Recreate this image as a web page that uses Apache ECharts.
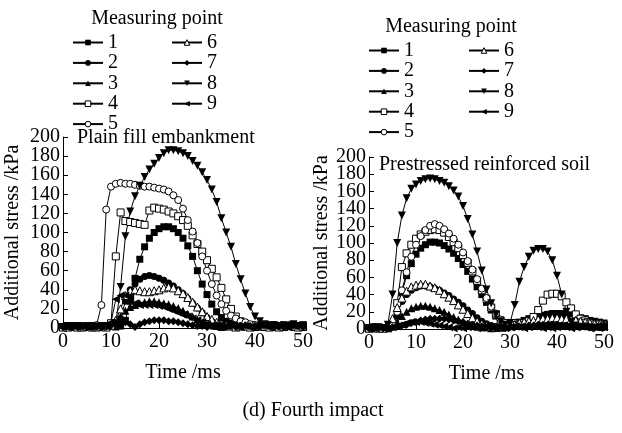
<!DOCTYPE html>
<html>
<head>
<meta charset="utf-8">
<title>Additional stress - fourth impact</title>
<script src="https://cdn.jsdelivr.net/npm/echarts@6/dist/echarts.min.js"></script>
<style>
  html, body { margin: 0; padding: 0; background: #fff; }
  #chart { width: 622px; height: 433px; }
</style>
</head>
<body>
<div id="chart"></div>
<script>
const times = [0, 1, 2, 3, 4, 5, 6, 7, 8, 9, 10, 11, 12, 13, 14, 15, 16, 17, 18, 19, 20,
  21, 22, 23, 24, 25, 26, 27, 28, 29, 30, 31, 32, 33, 34, 35, 36, 37, 38, 39, 40,
  41, 42, 43, 44, 45, 46, 47, 48, 49, 50]
const pointNames = ['1', '2', '3', '4', '5', '6', '7', '8', '9']
const xTicks = [0, 10, 20, 30, 40, 50]
const yTicks = [0, 20, 40, 60, 80, 100, 120, 140, 160, 180, 200]

// plain fill embankment, measuring points 1..9
const plain1 = [1, 2, 1, 1, 2, 1, 1, 2, 1, 1, 2, 1, 2,
  8, 28, 52, 72, 85, 94, 100, 104, 106, 106, 104, 100, 94, 86, 75, 60, 46, 35, 25, 17, 11, 7, 5, 4, 3, 2,
  2, 3, 1, 2, 3, 2, 1, 3, 2, 1, 2, 3]
const plain2 = [1, 1, 2, 1, 1, 2, 1, 1, 2, 1, 2, 3,
  10, 28, 40, 46, 51, 54, 55, 54, 52, 50, 47, 44, 40, 36, 31, 26, 21, 16, 11, 7, 5, 3,
  2, 2, 1, 2, 3, 2, 1, 2, 3, 2, 1, 2, 3, 2, 1, 2, 3]
const plain3 = [1, 2, 1, 1, 2, 1, 2, 1, 1, 2, 3,
  6, 12, 18, 22, 24, 26, 27, 28, 28, 27, 26, 25, 23, 21, 18, 15, 12, 9, 6, 4, 3,
  2, 1, 2, 2, 1, 2, 3, 2, 1, 2, 1, 2, 3, 2, 1, 2, 3, 2, 1]
const plain4 = [1, 1, 2, 1, 1, 2, 1, 2, 1, 2,
  5, 75, 121, 112, 111, 110, 109, 108, 123, 126, 125, 124, 122, 120, 117, 113, 107, 97, 88, 80,
  71, 62, 53, 42, 30, 20, 12, 7, 4, 3,
  2, 2, 1, 2, 3, 2, 1, 2, 3, 2, 1]
const plain5 = [1, 2, 1, 1, 2, 1, 1,
  3, 24, 124, 148, 151, 152, 151, 151, 150, 149, 148, 148, 147, 146, 145, 143, 139, 134, 125, 113,
  101, 89, 75, 60, 46, 34, 25, 18, 13, 10, 7, 6, 4, 3,
  2, 1, 2, 3, 2, 1, 2, 3, 2, 1]
const plain6 = [1, 1, 2, 1, 1, 2, 1, 1, 2, 1, 3,
  8, 20, 34, 39, 40, 39, 38, 38, 39, 40, 42, 43, 42, 39, 36, 32, 27, 22, 17, 12, 9, 6, 4, 3,
  2, 1, 2, 2, 1, 2, 3, 2, 1, 2, 1, 2, 3, 2, 1, 2]
const plain7 = [1, 2, 1, 1, 2, 1, 1, 2, 1, 2, 3,
  5, 6, 6, 4, 1, 4, 6, 7, 8, 8, 8, 7, 7, 6, 5, 4, 3, 2,
  2, 1, 2, 3, 2, 1, 2, 1, 2, 3, 2, 1, 2, 3, 2, 1, 2, 1, 2, 3, 2, 1]
const plain8 = [1, 2, 1, 2, 1, 1, 2, 1, 2, 1, 2,
  5, 43, 96, 122, 138, 149, 158, 166, 172, 178, 183, 186, 186, 185, 183, 180, 175, 170, 163, 155,
  145, 132, 115, 100, 85, 67, 51, 36, 22, 12, 7, 4,
  3, 2, 1, 3, 2, 4, 2, 3]
const plain9 = [1, 1, 2, 1, 2, 1, 1, 2, 1, 2,
  6, 30, 34, 34, 33, 26, 24, 24, 24, 24, 23, 22, 20, 18, 16, 14, 12, 10, 8, 6, 4, 3,
  2, 1, 2, 3, 2, 1, 2, 1, 2, 3, 2, 1, 2, 3, 2, 1, 2, 3, 2]

// prestressed reinforced soil, measuring points 1..9
const pre1 = [1, 1, 2, 1, 2,
  3, 15, 42, 62, 76, 87, 94, 98, 101, 101, 100, 97, 93, 88, 82, 75, 67, 58, 49, 40, 31, 22, 15, 9, 6, 5,
  6, 8, 10, 12, 14, 15, 16, 17, 18, 18, 18, 17, 16, 15, 13, 12, 10, 9, 8, 7]
const pre2 = [1, 2, 1, 1, 2,
  6, 20, 32, 40, 45, 48, 50, 50, 49, 47, 45, 42, 39, 35, 31, 27, 22, 18, 13, 9, 6, 4, 3,
  2, 2, 3, 4, 5, 6, 7, 8, 9, 10, 11, 12, 12, 12, 11, 10, 9, 8, 7, 6, 5, 4, 4]
const pre3 = [1, 1, 2, 1, 1,
  3, 8, 15, 20, 24, 26, 27, 27, 26, 24, 22, 20, 17, 14, 11, 8, 6, 4, 3,
  2, 2, 1, 2, 3, 3, 4, 5, 6, 7, 8, 9, 10, 10, 11, 11, 10, 10, 9, 8, 7, 6, 5, 5, 4, 3, 3]
const pre4 = [1, 1, 2, 1, 1,
  5, 30, 72, 88, 98, 105, 110, 113, 115, 116, 115, 112, 107, 101, 94, 86, 77, 67, 56, 45, 35, 25, 17, 10, 7,
  7, 7, 6, 7, 9, 14, 22, 33, 40, 41, 41, 38, 31, 24, 17, 12, 10, 8, 7, 6, 5]
const pre5 = [1, 2, 1, 1, 2,
  4, 20, 45, 66, 84, 98, 108, 115, 120, 122, 120, 116, 111, 105, 98, 89, 79, 69, 58, 47, 36, 26, 18, 11, 7, 5,
  5, 5, 6, 6, 7, 8, 8, 9, 9, 10, 10, 10, 9, 9, 8, 8, 7, 6, 6, 5]
const pre6 = [1, 2, 1, 1,
  3, 12, 25, 36, 44, 49, 51, 52, 52, 50, 48, 45, 41, 37, 33, 28, 23, 18, 13, 9, 6, 4, 3,
  2, 2, 3, 4, 5, 7, 8, 9, 10, 11, 12, 12, 13, 13, 12, 12, 11, 10, 9, 8, 7, 6, 5, 4]
const pre7 = [1, 1, 2, 1, 1, 2,
  3, 4, 5, 7, 8, 10, 11, 12, 12, 12, 12, 11, 10, 9, 8, 6, 5, 4, 3,
  2, 2, 1, 2, 1, 2, 2, 3, 3, 4, 4, 5, 5, 5, 5, 5, 4, 4, 4, 3, 3, 3, 2, 2, 2, 2]
const pre8 = [1, 2, 1, 1,
  5, 40, 100, 132, 152, 163, 168, 172, 174, 175, 174, 172, 170, 166, 161, 154, 143, 128, 110, 90, 68,
  46, 30, 17, 9, 5, 7, 28, 55, 72, 84, 91, 93, 93, 90, 80, 62, 40, 20, 8, 4,
  2, 3, 2, 1, 2, 3]
const pre9 = [1, 1, 2, 1, 1, 2,
  3, 5, 7, 8, 8, 8, 7, 6, 5, 4, 3,
  2, 1, 2, 1, 2, 2, 1, 2, 3, 2, 1, 2, 1, 2, 3, 2, 1, 2, 3, 2, 1, 2, 1, 2, 3, 2, 1, 2, 3, 2, 1, 2, 1, 2]

const plainSeries = [plain1, plain2, plain3, plain4, plain5, plain6, plain7, plain8, plain9]
const preSeries = [pre1, pre2, pre3, pre4, pre5, pre6, pre7, pre8, pre9]

const FONT = '"Liberation Serif", "Times New Roman", serif'
const BLACK = '#000'

// marker per measuring point
const markers = [
  { symbol: 'rect', size: 7, rotate: 0, open: false },
  { symbol: 'circle', size: 7, rotate: 0, open: false },
  { symbol: 'triangle', size: 8, rotate: 0, open: false },
  { symbol: 'rect', size: 7, rotate: 0, open: true },
  { symbol: 'circle', size: 7, rotate: 0, open: true },
  { symbol: 'triangle', size: 8, rotate: 0, open: true },
  { symbol: 'diamond', size: 8, rotate: 0, open: false },
  { symbol: 'triangle', size: 8, rotate: 180, open: false },
  { symbol: 'triangle', size: 8, rotate: 90, open: false }
]

function buildSeries(list, axisIndex) {
  return list.map((vals, i) => {
    const m = markers[i]
    return {
      name: pointNames[i],
      type: 'line',
      xAxisIndex: axisIndex,
      yAxisIndex: axisIndex * 2,
      data: times.map((t, k) => [t, vals[k]]),
      symbol: m.symbol,
      symbolSize: m.size,
      symbolRotate: m.rotate,
      lineStyle: { width: 1, color: BLACK },
      itemStyle: m.open
        ? { color: '#fff', borderColor: BLACK, borderWidth: 1 }
        : { color: BLACK },
      emphasis: { disabled: true },
      animation: false
    }
  })
}

function xAxisFor(gridIndex) {
  return {
    type: 'value',
    gridIndex: gridIndex,
    min: xTicks[0],
    max: xTicks[xTicks.length - 1],
    interval: xTicks[1] - xTicks[0],
    name: 'Time /ms',
    nameLocation: 'middle',
    nameGap: 35,
    nameTextStyle: { fontFamily: FONT, fontSize: 20, color: BLACK },
    axisLine: { lineStyle: { color: BLACK, width: 1 } },
    axisTick: { inside: true, length: 5, lineStyle: { color: BLACK } },
    axisLabel: {
      margin: 4, fontFamily: FONT, fontSize: 20, color: BLACK,
      showMinLabel: true, showMaxLabel: true
    },
    splitLine: { show: false }
  }
}

// The stress labels sit closer than their glyph height, so ECharts drops
// the ones next to the ends. Two coincident left axes share them: one prints
// 0, 40, 80 ... and the other 20, 60, 100 ...
function yAxisFor(gridIndex, gap, even) {
  const step = yTicks[1] - yTicks[0]
  return {
    type: 'value',
    gridIndex: gridIndex,
    position: 'left',
    offset: 0,
    min: yTicks[0],
    max: yTicks[yTicks.length - 1],
    interval: step,
    name: even ? 'Additional stress /kPa' : '',
    nameLocation: 'middle',
    nameGap: gap,
    nameTextStyle: { fontFamily: FONT, fontSize: 20, color: BLACK },
    axisLine: { show: even, lineStyle: { color: BLACK, width: 1 } },
    axisTick: { show: true, inside: true, length: 5, lineStyle: { color: BLACK } },
    axisLabel: {
      margin: 3, fontFamily: FONT, fontSize: 20, color: BLACK,
      showMinLabel: even, showMaxLabel: even, hideOverlap: false,
      formatter: function (v) {
        const isEven = Math.round(v / step) % 2 === 0
        return isEven === even ? String(v) : ''
      }
    },
    splitLine: { show: false }
  }
}

function legendAt(left, top, names) {
  return {
    orient: 'vertical',
    left: left,
    top: top,
    padding: 0,
    itemGap: 0.4,
    itemWidth: 30,
    itemHeight: 7,
    selectedMode: false,
    data: names,
    itemStyle: { borderWidth: 1 },
    textStyle: { fontFamily: FONT, fontSize: 20, color: BLACK, lineHeight: 19 }
  }
}

function label(text, x, y, align) {
  return {
    type: 'text',
    x: x,
    y: y,
    silent: true,
    style: {
      text: text,
      font: '20px ' + FONT,
      fill: BLACK,
      align: align,
      verticalAlign: 'middle'
    }
  }
}

const chart = echarts.init(document.getElementById('chart'), null, { renderer: 'canvas' })

chart.setOption({
  animation: false,
  color: [BLACK],
  grid: [
    { left: 63, top: 137, width: 240, height: 191, outerBoundsMode: 'none' },
    { left: 369, top: 157, width: 235, height: 172, outerBoundsMode: 'none' }
  ],
  xAxis: [xAxisFor(0), xAxisFor(1)],
  yAxis: [yAxisFor(0, 40, true), yAxisFor(0, 40, false), yAxisFor(1, 35, true), yAxisFor(1, 35, false)],
  legend: [
    legendAt(72, 32.5, pointNames.slice(0, 5)),
    legendAt(171, 32.5, pointNames.slice(5)),
    legendAt(368, 40.5, pointNames.slice(0, 5)),
    legendAt(468, 40.5, pointNames.slice(5))
  ],
  graphic: [
    label('Measuring point', 157, 19, 'center'),
    label('Measuring point', 451, 27, 'center'),
    label('Plain fill embankment', 77, 138, 'left'),
    label('Prestressed reinforced soil', 379, 165, 'left'),
    label('(d) Fourth impact', 313, 411, 'center')
  ],
  series: buildSeries(plainSeries, 0).concat(buildSeries(preSeries, 1))
})
</script>
</body>
</html>
